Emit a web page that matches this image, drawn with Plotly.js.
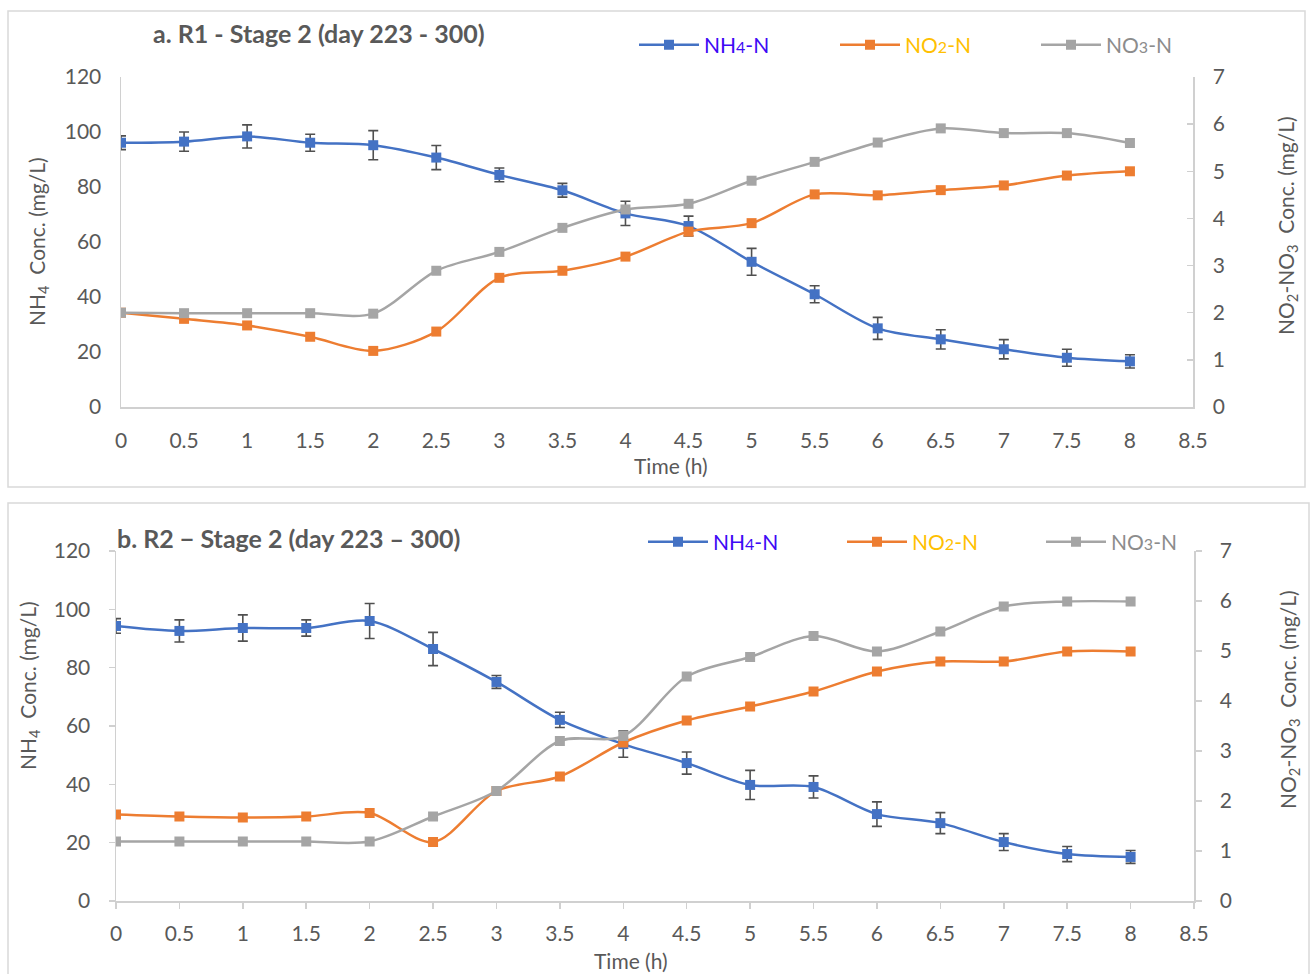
<!DOCTYPE html>
<html><head><meta charset="utf-8">
<script src="https://cdn.plot.ly/plotly-3.0.1.min.js"></script>
<style>html,body{margin:0;padding:0;background:#fff}#chart{width:1311px;height:974px}</style>
</head><body><div id="chart"></div>
<script>
// ---- data ----
const timeH = [0,0.5,1,1.5,2,2.5,3,3.5,4,4.5,5,5.5,6,6.5,7,7.5,8];

// R1 (panel a)
const r1NH4    = [96.1,96.5,98.4,96.1,95.2,90.7,84.4,78.8,70.4,65.8,52.8,41.0,28.6,24.6,21.0,17.9,16.6];
const r1NH4Err = [2.5,3.5,4.2,3.1,5.3,4.4,2.5,2.5,4.4,3.6,4.9,3.1,4.0,3.5,3.5,3.1,2.4];
const r1NO2    = [2.0,1.87,1.73,1.49,1.19,1.6,2.74,2.89,3.19,3.72,3.9,4.51,4.49,4.6,4.7,4.91,5.0];
const r1NO3    = [2.0,1.99,1.99,1.99,1.98,2.89,3.29,3.8,4.19,4.31,4.8,5.2,5.61,5.91,5.81,5.81,5.6];

// R2 (panel b)
const r2NH4    = [94.3,92.6,93.6,93.6,96.0,86.4,75.1,62.1,53.8,47.3,39.8,39.1,29.8,26.7,20.2,16.1,15.1];
const r2NH4Err = [2.5,3.8,4.5,2.8,6.0,5.7,2.2,2.6,4.5,3.8,5.0,3.8,4.2,3.6,2.9,2.6,2.2];
const r2NO2    = [1.73,1.69,1.67,1.69,1.76,1.18,2.2,2.49,3.17,3.61,3.89,4.19,4.59,4.79,4.79,4.99,4.99];
const r2NO3    = [1.19,1.19,1.19,1.19,1.19,1.69,2.2,3.2,3.3,4.49,4.88,5.3,4.99,5.39,5.89,5.99,5.99];

const seriesNames = [
  "<span style='color:#3D0AF5'>NH<span style='font-size:16px'>4</span>-N</span>",
  "<span style='color:#FFC000'>NO<span style='font-size:16px'>2</span>-N</span>",
  "<span style='color:#8C8C8C'>NO<span style='font-size:16px'>3</span>-N</span>"
];
const panelTitles = ["<b>a. R1 - Stage 2 (day 223 - 300)</b>", "<b>b. R2 − Stage 2 (day 223 – 300)</b>"];
const xTitle = "Time (h)";
const yLeftTitle = "NH<sub>4</sub>  Conc. (mg/L)";
const yRightTitle = "NO<sub>2</sub>-NO<sub>3</sub>  Conc. (mg/L)";

// ---- styling ----
const BLUE = '#4472C4', ORANGE = '#ED7D31', GRAY = '#A5A5A5';
const TXT = '#595959', AX = '#D0D0D0';
const FONT = 'Lato, "Open Sans", sans-serif';
const W = 1311, H = 974;
const px = v => v / W, py = v => 1 - v / H;

function line(name, x, y, color, xa, ya, lg, err) {
  const t = {
    type: 'scatter', mode: 'lines+markers', name: name, x: x, y: y,
    xaxis: xa, yaxis: ya, legend: lg,
    line: {color: color, width: 2.5, shape: 'spline', smoothing: 0.9},
    marker: {symbol: 'square', size: 10, color: color},
    hoverinfo: 'x+y'
  };
  if (err) t.error_y = {type: 'data', array: err, visible: true, color: '#505050', thickness: 1.6, width: 5};
  return t;
}

const traces = [
  line(seriesNames[0], timeH, r1NH4, BLUE, 'x', 'y', 'legend', r1NH4Err),
  line(seriesNames[1], timeH, r1NO2, ORANGE, 'x', 'y2', 'legend'),
  line(seriesNames[2], timeH, r1NO3, GRAY, 'x', 'y2', 'legend'),
  line(seriesNames[0], timeH, r2NH4, BLUE, 'x2', 'y3', 'legend2', r2NH4Err),
  line(seriesNames[1], timeH, r2NO2, ORANGE, 'x2', 'y4', 'legend2'),
  line(seriesNames[2], timeH, r2NO3, GRAY, 'x2', 'y4', 'legend2')
];

const tickfont = {family: FONT, size: 21, color: TXT};
function xax(dom, anchor, ticks, standoff) {
  return {domain: dom, anchor: anchor, range: [0, 8.5], tick0: 0, dtick: 0.5,
    showline: true, linecolor: AX, linewidth: 1.5, showgrid: false, zeroline: false,
    ticks: ticks, ticklen: 6, tickcolor: AX, tickwidth: 1.5, tickfont: tickfont, ticklabelstandoff: standoff, fixedrange: true};
}
function yax(dom, anchor, rng, dt, side, ticks, over) {
  const a = {domain: dom, anchor: anchor, range: rng, dtick: dt, tick0: 0, side: side,
    showline: true, linecolor: AX, linewidth: 1.5, showgrid: false, zeroline: false,
    ticks: ticks, ticklen: 6, tickcolor: AX, tickwidth: 1.5, tickfont: tickfont, ticklabelstandoff: 14, fixedrange: true};
  if (over) a.overlaying = over;
  return a;
}

const domA = [py(407), py(77)], domB = [py(901), py(551)];

const annFont = {family: FONT, size: 21, color: TXT};
const annotations = [
  {text: panelTitles[0], x: px(319), y: py(33), xref: 'paper', yref: 'paper', showarrow: false, xanchor: 'center', yanchor: 'middle', font: {family: FONT, size: 25, color: TXT}},
  {text: panelTitles[1], x: px(115), y: py(538), xref: 'paper', yref: 'paper', showarrow: false, xanchor: 'left', yanchor: 'middle', font: {family: FONT, size: 25, color: TXT}},
  {text: xTitle, x: px(671), y: py(466), xref: 'paper', yref: 'paper', showarrow: false, xanchor: 'center', yanchor: 'middle', font: annFont},
  {text: xTitle, x: px(631), y: py(960), xref: 'paper', yref: 'paper', showarrow: false, xanchor: 'center', yanchor: 'middle', font: annFont},
  {text: yLeftTitle, x: px(38), y: py(242), xref: 'paper', yref: 'paper', showarrow: false, textangle: -90, xanchor: 'center', yanchor: 'middle', font: annFont},
  {text: yLeftTitle, x: px(29), y: py(686), xref: 'paper', yref: 'paper', showarrow: false, textangle: -90, xanchor: 'center', yanchor: 'middle', font: annFont},
  {text: yRightTitle, x: px(1287), y: py(226), xref: 'paper', yref: 'paper', showarrow: false, textangle: -90, xanchor: 'center', yanchor: 'middle', font: annFont},
  {text: yRightTitle, x: px(1289), y: py(700), xref: 'paper', yref: 'paper', showarrow: false, textangle: -90, xanchor: 'center', yanchor: 'middle', font: annFont}
];

const legendBase = {orientation: 'h', xanchor: 'left', yanchor: 'middle', bgcolor: 'rgba(0,0,0,0)',
  font: {family: FONT, size: 21, color: TXT}, itemwidth: 60, entrywidthmode: 'pixels', itemclick: false, itemdoubleclick: false};

const layout = {
  width: W, height: H, margin: {l: 0, r: 0, t: 0, b: 0},
  paper_bgcolor: '#fff', plot_bgcolor: 'rgba(0,0,0,0)',
  showlegend: true,
  xaxis: xax([px(121), px(1193)], 'y', '', 14),
  yaxis: yax(domA, 'x', [0, 120], 20, 'left', ''),
  yaxis2: yax(domA, 'x', [0, 7], 1, 'right', 'inside', 'y'),
  xaxis2: xax([px(116), px(1194)], 'y3', 'outside', 7),
  yaxis3: yax(domB, 'x2', [0, 120], 20, 'left', 'outside'),
  yaxis4: yax(domB, 'x2', [0, 7], 1, 'right', 'outside', 'y3'),
  legend: Object.assign({x: px(634), y: py(45), entrywidth: 126}, legendBase),
  legend2: Object.assign({x: px(643), y: py(542), entrywidth: 124}, legendBase),
  annotations: annotations,
  shapes: [
    {type: 'rect', xref: 'paper', yref: 'paper', x0: px(8), x1: px(1305), y0: py(487), y1: py(11), line: {color: '#D9D9D9', width: 1.5}},
    {type: 'rect', xref: 'paper', yref: 'paper', x0: px(8), x1: px(1309), y0: py(990), y1: py(503), line: {color: '#D9D9D9', width: 1.5}}
  ]
};

Plotly.newPlot('chart', traces, layout, {displayModeBar: false, staticPlot: true});
</script>
</body></html>
